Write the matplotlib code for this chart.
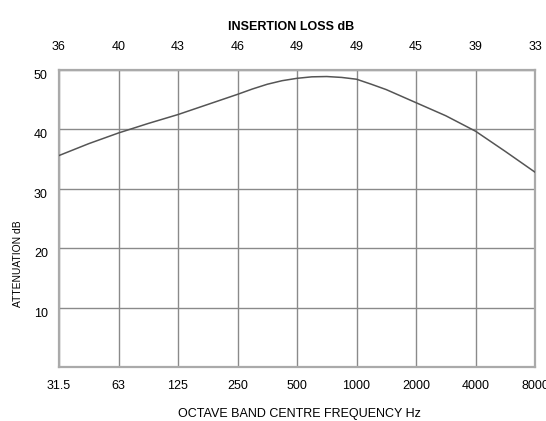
import numpy as np
import matplotlib.pyplot as plt

plt.rcParams['font.family'] = ['Liberation Sans', 'DejaVu Sans']

# octave bands (bottom axis) and insertion loss per band (top axis)
bands = ['31.5', '63', '125', '250', '500', '1000', '2000', '4000', '8000']
insertion_loss = ['36', '40', '43', '46', '49', '49', '45', '39', '33']

# attenuation curve, position in octave steps from 31.5 Hz
curve_pos = [0, 0.5, 1, 1.5, 2, 2.5, 3, 3.25, 3.5, 3.75, 4, 4.25, 4.5, 4.75,
             5, 5.25, 5.5, 6, 6.5, 7, 7.5, 8]
curve_db = [35.6, 37.6, 39.4, 41.0, 42.5, 44.2, 45.9, 46.8, 47.6, 48.2, 48.6, 48.85,
            48.9, 48.75, 48.45, 47.6, 46.7, 44.5, 42.3, 39.7, 36.3, 32.8]

yticks = [10, 20, 30, 40, 50]

fig = plt.figure(figsize=(5.46, 4.21), dpi=100)
ax = fig.add_axes([59 / 546, 1 - 367 / 421, 476 / 546, 297 / 421])

x = np.arange(len(bands))
ax.plot(curve_pos, curve_db, color='#555555', lw=1.1, zorder=3)

ax.set_xlim(0, len(bands) - 1)
ax.set_ylim(0, 50)
ax.set_xticks(x)
ax.set_xticklabels(bands, fontsize=9)
ax.set_yticks(yticks)
ax.set_yticklabels([str(v) for v in yticks], fontsize=9)
ax.tick_params(length=0)
ax.tick_params(axis='x', pad=9.5)
ax.tick_params(axis='y', pad=8)
for lab in ax.get_yticklabels():
    lab.set_va('top')
ax.grid(True, color='#8a8a8a', lw=1.0)
for s in ax.spines.values():
    s.set_color('#aaaaaa')
    s.set_linewidth(1.6)

top = ax.secondary_xaxis('top')
top.set_xticks(x)
top.set_xticklabels(insertion_loss, fontsize=9)
top.tick_params(length=0, pad=12.5)
top.spines['top'].set_visible(False)

fig.text(299 / 546, 1 - 414 / 421, 'OCTAVE BAND CENTRE FREQUENCY Hz',
         fontsize=9, ha='center', va='center')
fig.text(291 / 546, 1 - 27 / 421, 'INSERTION LOSS dB',
         fontsize=9, fontweight='bold', ha='center', va='center')
fig.text(18 / 546, 1 - 264 / 421, 'ATTENUATION dB',
         fontsize=7.4, rotation=90, ha='center', va='center')

fig.savefig('out.png', dpi=100)
